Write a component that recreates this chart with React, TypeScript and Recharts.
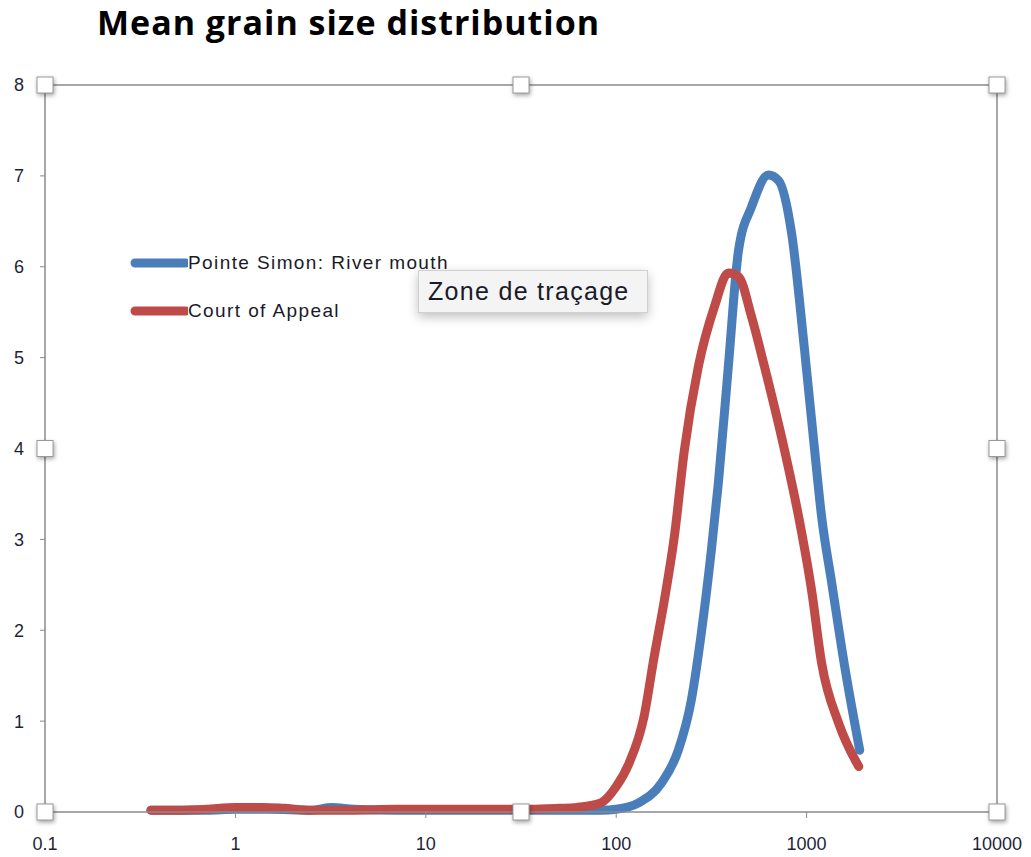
import React from "react";
import {
  LineChart,
  Line,
  XAxis,
  YAxis,
  ReferenceLine,
  ReferenceDot,
} from "recharts";

// Grain size (µm) on log axis, % on y axis
const xTicks = [0.1, 1, 10, 100, 1000, 10000];
const yTicks = [0, 1, 2, 3, 4, 5, 6, 7, 8];

const pointeSimonX = [
  0.36, 0.5, 0.7, 1.0, 1.5, 2.5, 3.2, 4.2, 7, 12, 20, 35, 50, 62, 83, 100, 131,
  173, 212, 248, 280, 316, 344, 388, 439, 514, 631, 712, 834, 976, 1102, 1199,
  1355, 1585, 1901,
];
const pointeSimonY = [
  0.02, 0.02, 0.02, 0.03, 0.03, 0.02, 0.05, 0.03, 0.02, 0.02, 0.02, 0.02, 0.02,
  0.02, 0.02, 0.03, 0.1, 0.32, 0.68, 1.23, 1.97, 2.88, 3.62, 4.9, 6.18, 6.66,
  7.01, 6.95, 6.37, 5.08, 3.98, 3.25, 2.52, 1.6, 0.68,
];

const courtX = [
  0.36, 0.5, 0.7, 1.0, 1.4, 1.8, 2.5, 4, 7, 12, 20, 35, 50, 62, 83, 100, 117,
  140, 158, 179, 202, 228, 270, 328, 388, 439, 514, 601, 766, 908, 1062, 1199,
  1472, 1879,
];
const courtY = [
  0.02, 0.02, 0.03, 0.05, 0.05, 0.04, 0.02, 0.02, 0.03, 0.03, 0.03, 0.03, 0.04,
  0.05, 0.1, 0.28, 0.54, 1.05, 1.7, 2.33, 3.03, 3.98, 4.9, 5.56, 5.93, 5.89,
  5.45, 4.9, 3.98, 3.25, 2.44, 1.64, 0.98, 0.5,
];

const seriesNames = ["Pointe Simon: River mouth", "Court of Appeal"];
const seriesColors = ["#4a7ebb", "#be4b48"];

const blueData = pointeSimonX.map((x, i) => ({ x, y: pointeSimonY[i] }));
const redData = courtX.map((x, i) => ({ x, y: courtY[i] }));

// selection handle positions (data coords)
const handleXs = [0.1, 31.62, 10000];
const handleYs = [0, 4, 8];

const Handle = (props: any) => {
  const { cx, cy } = props;
  if (cx == null || cy == null) return null;
  return (
    <rect
      x={cx - 8}
      y={cy - 8}
      width={16}
      height={16}
      fill="#ffffff"
      stroke="#9a9a9a"
      strokeWidth={1}
      style={{ filter: "drop-shadow(1px 2px 2px rgba(0,0,0,0.35))" }}
    />
  );
};

export default function App() {
  const handles: { x: number; y: number }[] = [];
  handleXs.forEach((hx) =>
    handleYs.forEach((hy) => {
      if (hx === 31.62 && hy === 4) return;
      handles.push({ x: hx, y: hy });
    })
  );

  return (
    <div
      style={{
        position: "absolute",
        left: 0,
        top: 0,
        width: 1031,
        height: 857,
        background: "#ffffff",
      }}
    >
      <div
        style={{
          position: "absolute",
          left: 97,
          top: -1,
          fontFamily: "'Open Sans', sans-serif",
          fontWeight: 700,
          fontSize: 34,
          letterSpacing: 1,
          color: "#000",
          whiteSpace: "nowrap",
        }}
      >
        Mean grain size distribution
      </div>
      <LineChart
        width={1031}
        height={857}
        margin={{ top: 85, right: 34, bottom: 0, left: 0 }}
        style={{ position: "absolute", left: 0, top: 0 }}
      >
        <XAxis
          dataKey="x"
          type="number"
          scale="log"
          domain={[0.1, 10000]}
          ticks={xTicks}
          allowDataOverflow
          height={45}
          axisLine={{ stroke: "#8a8a8a", strokeWidth: 1.5 }}
          tickLine={{ stroke: "#8a8a8a" }}
          tickSize={6}
          tickMargin={19}
          tick={{
            fill: "#1f1f3a",
            fontSize: 18,
            fontFamily: "'Liberation Sans', Arial, sans-serif",
          }}
          tickFormatter={(v: number) => String(v)}
        />
        <YAxis
          type="number"
          domain={[0, 8]}
          ticks={yTicks}
          width={45}
          axisLine={{ stroke: "#8a8a8a", strokeWidth: 1.5 }}
          tickLine={{ stroke: "#8a8a8a" }}
          tickSize={5}
          tickMargin={16}
          tick={{
            fill: "#1f1f3a",
            fontSize: 18,
            fontFamily: "'Liberation Sans', Arial, sans-serif",
          }}
        />
        <ReferenceLine y={8} stroke="#8a8a8a" strokeWidth={1.5} />
        <ReferenceLine x={10000} stroke="#8a8a8a" strokeWidth={1.5} />
        <Line
          data={blueData}
          dataKey="y"
          name={seriesNames[0]}
          type="monotone"
          stroke={seriesColors[0]}
          strokeWidth={9}
          strokeLinecap="round"
          strokeLinejoin="round"
          dot={false}
          activeDot={false}
          isAnimationActive={false}
        />
        <Line
          data={redData}
          dataKey="y"
          name={seriesNames[1]}
          type="monotone"
          stroke={seriesColors[1]}
          strokeWidth={9}
          strokeLinecap="round"
          strokeLinejoin="round"
          dot={false}
          activeDot={false}
          isAnimationActive={false}
        />
        {handles.map((h, i) => (
          <ReferenceDot
            key={i}
            x={h.x}
            y={h.y}
            r={8}
            ifOverflow="visible"
            shape={<Handle />}
          />
        ))}
      </LineChart>
      <div
        style={{
          position: "absolute",
          left: 130,
          top: 239,
          fontFamily: "'Liberation Sans', Arial, sans-serif",
        }}
      >
        {seriesNames.map((name, i) => (
          <div
            key={i}
            style={{
              display: "flex",
              alignItems: "center",
              height: 48,
              fontSize: 19,
              letterSpacing: 1.4,
              color: "#1a1a2a",
              whiteSpace: "nowrap",
            }}
          >
            <svg width={58} height={12} style={{ display: "block" }}>
              <line
                x1={5}
                y1={6}
                x2={56}
                y2={6}
                stroke={seriesColors[i]}
                strokeWidth={9}
                strokeLinecap="round"
              />
            </svg>
            <span>{name}</span>
          </div>
        ))}
      </div>
      <div
        style={{
          position: "absolute",
          left: 418,
          top: 270,
          width: 230,
          height: 43,
          boxSizing: "border-box",
          background: "#f4f4f4",
          border: "1px solid #d0d0d0",
          boxShadow: "0 4px 10px rgba(0,0,0,0.25)",
          fontFamily: "'Liberation Sans', Arial, sans-serif",
          fontSize: 25,
          letterSpacing: 1.3,
          color: "#1a1a2a",
          paddingLeft: 9,
          lineHeight: "41px",
          whiteSpace: "nowrap",
        }}
      >
        Zone de traçage
      </div>
    </div>
  );
}
